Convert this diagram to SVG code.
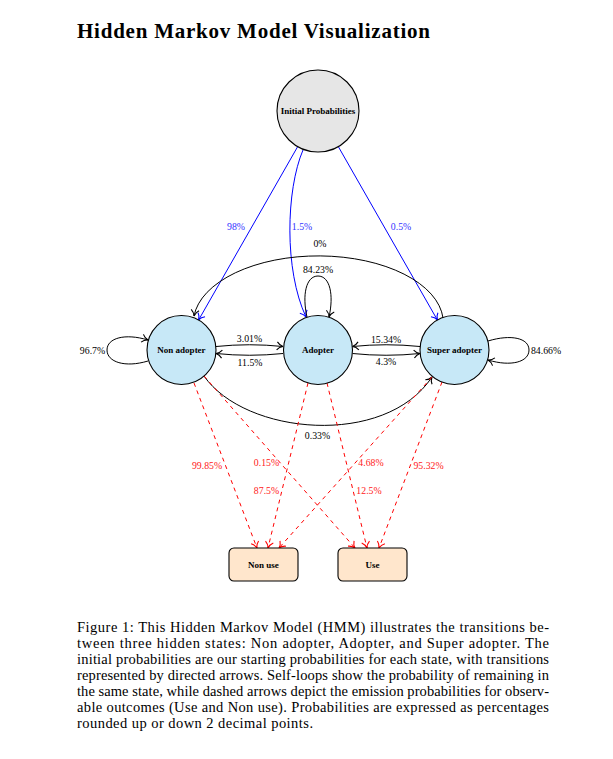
<svg xmlns="http://www.w3.org/2000/svg" width="613" height="759" viewBox="0 0 613 759">
<defs>
<style>
.state{fill:#c7e8f7;stroke:#000;stroke-width:1.1}
.init{fill:#e6e6e6;stroke:#000;stroke-width:1.1}
.box{fill:#ffe6cc;stroke:#000;stroke-width:1.1}
.nl{font-family:"Liberation Serif",serif;font-weight:bold;font-size:9px;text-anchor:middle;fill:#000}
.el{font-family:"Liberation Serif",serif;font-size:9.8px;text-anchor:middle}
.k{fill:none;stroke:#000;stroke-width:1}
.b{fill:none;stroke:#0000ff;stroke-width:1}
.r{fill:none;stroke:#ff0000;stroke-width:1;stroke-dasharray:4 4}
.cap{font-family:"Liberation Serif",serif;font-size:14.5px;fill:#000}
</style>
<marker id="ak" markerUnits="userSpaceOnUse" markerWidth="10" markerHeight="10" viewBox="-7 -5 8 10" refX="0" refY="0" orient="auto"><path d="M-6,-4 C-4.3,-1.7 -1.3,-0.3 0,0 C-1.3,0.3 -4.3,1.7 -6,4" fill="none" stroke="#000" stroke-width="1.1"/></marker>
<marker id="ab" markerUnits="userSpaceOnUse" markerWidth="10" markerHeight="10" viewBox="-7 -5 8 10" refX="0" refY="0" orient="auto"><path d="M-6,-4 C-4.3,-1.7 -1.3,-0.3 0,0 C-1.3,0.3 -4.3,1.7 -6,4" fill="none" stroke="#0000ff" stroke-width="1.1"/></marker>
<marker id="ar" markerUnits="userSpaceOnUse" markerWidth="10" markerHeight="10" viewBox="-7 -5 8 10" refX="0" refY="0" orient="auto"><path d="M-6,-4 C-4.3,-1.7 -1.3,-0.3 0,0 C-1.3,0.3 -4.3,1.7 -6,4" fill="none" stroke="#ff0000" stroke-width="1.1"/></marker>
</defs>
<rect width="613" height="759" fill="#fff"/>
<text x="77" y="38" font-family="Liberation Serif, serif" font-weight="bold" font-size="21" textLength="353" lengthAdjust="spacing">Hidden Markov Model Visualization</text>

<g id="connectors">
<path class="b" d="M297.7,146.6 L198.6,320" marker-end="url(#ab)"/>
<path class="b" d="M303,150 C286,190 284,270 306,317" marker-end="url(#ab)"/>
<path class="b" d="M338.3,146.6 L437.4,320" marker-end="url(#ab)"/>
<path class="k" d="M443,318 A125,67 0 0 0 194,316" marker-end="url(#ak)"/>
<path class="k" d="M204,376 C245,435 385,448 432,377" marker-end="url(#ak)"/>
<path class="k" d="M216,346.5 Q249.5,343 283,346.5" marker-end="url(#ak)"/>
<path class="k" d="M283,353.5 Q249.5,357 216,353.5" marker-end="url(#ak)"/>
<path class="k" d="M420,346.5 Q386,343 352.5,346.5" marker-end="url(#ak)"/>
<path class="k" d="M352.5,353.5 Q386,357 420,353.5" marker-end="url(#ak)"/>
<path class="k" d="M148,361 C125,368 107,362 107,350 C107,338 125,333 148,340" marker-end="url(#ak)"/>
<path class="k" d="M488,341 C511,334 529,338 529,350 C529,362 511,367 488,360" marker-end="url(#ak)"/>
<path class="k" d="M307,317 C302,295 306,276 318,276 C330,276 334,295 329,317" marker-end="url(#ak)"/>
<path class="r" d="M194,383 L257,548" marker-end="url(#ar)"/>
<path class="r" d="M204,376 L355,548" marker-end="url(#ar)"/>
<path class="r" d="M308,383 L268,548" marker-end="url(#ar)"/>
<path class="r" d="M327,383 L367,548" marker-end="url(#ar)"/>
<path class="r" d="M432,377 L279,548" marker-end="url(#ar)"/>
<path class="r" d="M442,382 L379,548" marker-end="url(#ar)"/>
<g class="el" fill="#3333ff">
<text x="236" y="230">98%</text>
<text x="302" y="230">1.5%</text>
<text x="401" y="230">0.5%</text>
</g>
<g class="el" fill="#000">
<text x="320" y="247">0%</text>
<text x="318" y="273">84.23%</text>
<text x="92.5" y="354">96.7%</text>
<text x="249.5" y="342">3.01%</text>
<text x="250" y="366">11.5%</text>
<text x="386" y="343">15.34%</text>
<text x="386" y="365">4.3%</text>
<text x="546" y="354">84.66%</text>
<text x="317.5" y="439">0.33%</text>
</g>
<g class="el" fill="#ff2020">
<text x="207" y="469">99.85%</text>
<text x="266.5" y="466">0.15%</text>
<text x="266.5" y="494">87.5%</text>
<text x="371" y="466">4.68%</text>
<text x="369" y="494">12.5%</text>
<text x="428.5" y="469">95.32%</text>
</g>
</g>

<g id="node-init"><circle class="init" cx="318" cy="111" r="41"/><text class="nl" x="318" y="114">Initial Probabilities</text></g>
<g id="node-non-adopter"><circle class="state" cx="181.5" cy="350" r="34.5"/><text class="nl" x="181.5" y="353">Non adopter</text></g>
<g id="node-adopter"><circle class="state" cx="318" cy="350" r="34.5"/><text class="nl" x="318" y="353">Adopter</text></g>
<g id="node-super-adopter"><circle class="state" cx="454.5" cy="350" r="34.5"/><text class="nl" x="454.5" y="353">Super adopter</text></g>
<g id="node-non-use"><rect class="box" x="229" y="548" width="69" height="33" rx="5"/><text class="nl" x="263.5" y="567.5">Non use</text></g>
<g id="node-use"><rect class="box" x="338" y="548" width="69" height="33" rx="5"/><text class="nl" x="372.5" y="567.5">Use</text></g>

<g id="caption" class="cap">
<text x="77" y="632" textLength="472" lengthAdjust="spacing">Figure 1: This Hidden Markov Model (HMM) illustrates the transitions be-</text>
<text x="77" y="648" textLength="472" lengthAdjust="spacing">tween three hidden states: Non adopter, Adopter, and Super adopter. The</text>
<text x="77" y="664" textLength="472" lengthAdjust="spacing">initial probabilities are our starting probabilities for each state, with transitions</text>
<text x="77" y="680" textLength="472" lengthAdjust="spacing">represented by directed arrows. Self-loops show the probability of remaining in</text>
<text x="77" y="696" textLength="472" lengthAdjust="spacing">the same state, while dashed arrows depict the emission probabilities for observ-</text>
<text x="77" y="712" textLength="472" lengthAdjust="spacing">able outcomes (Use and Non use). Probabilities are expressed as percentages</text>
<text x="77" y="728" textLength="236" lengthAdjust="spacing">rounded up or down 2 decimal points.</text>
</g>
</svg>
